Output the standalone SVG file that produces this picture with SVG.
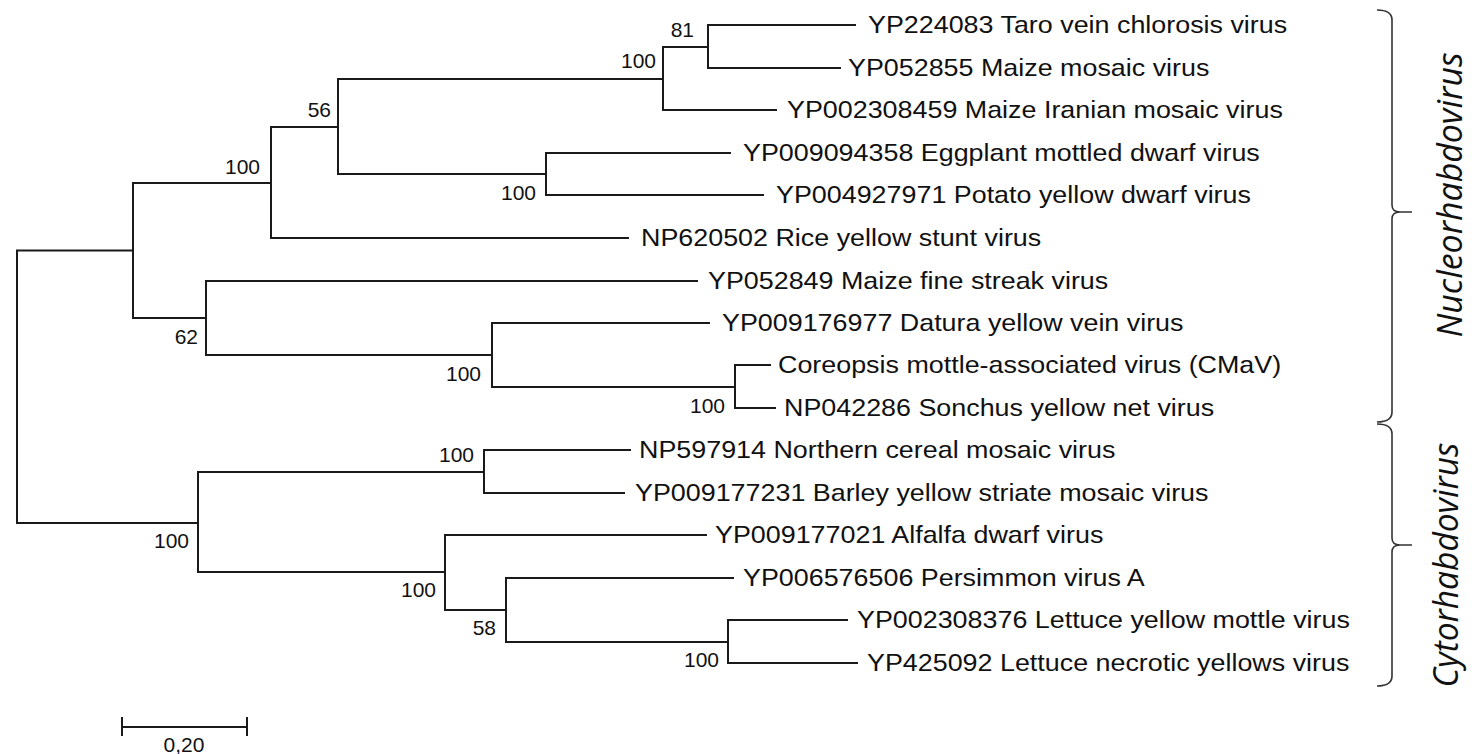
<svg xmlns="http://www.w3.org/2000/svg" width="1472" height="754" viewBox="0 0 1472 754">
<style>
.br{fill:none;stroke:#1a1a1a;stroke-width:2;stroke-linecap:square}
.brace{fill:none;stroke:#333;stroke-width:1.6}
.leaf{font-family:"Liberation Sans",Arial,sans-serif;font-size:24px;fill:#111}
.bs{font-family:"Liberation Sans",Arial,sans-serif;font-size:21px;fill:#111;text-anchor:end}
.genus{font-family:"Open Sans","Noto Sans",sans-serif;font-style:italic;font-size:34px;fill:#111;text-anchor:middle}
</style>
<rect width="1472" height="754" fill="#fff"/>
<g id="connectors">
<path class="br" d="M17,250.5V523 M17,250.5H133 M17,523H198"/>
<path class="br" d="M133,183V318 M133,183H271 M133,318H206"/>
<path class="br" d="M271,127V238 M271,127H338 M271,238H628"/>
<path class="br" d="M338,79V174 M338,79H663 M338,174H546"/>
<path class="br" d="M663,47V110 M663,47H708 M663,110H776"/>
<path class="br" d="M708,25V68 M708,25H855 M708,68H840"/>
<path class="br" d="M546,153V195 M546,153H730 M546,195H763"/>
<path class="br" d="M206,281V355 M206,281H697 M206,355H492"/>
<path class="br" d="M492,323V387 M492,323H709 M492,387H735"/>
<path class="br" d="M735,365V408 M735,365H770 M735,408H775"/>
<path class="br" d="M198,472V572 M198,472H484 M198,572H445"/>
<path class="br" d="M484,450V493 M484,450H630 M484,493H624"/>
<path class="br" d="M445,535V610 M445,535H706 M445,610H506"/>
<path class="br" d="M506,578V642 M506,578H733 M506,642H728"/>
<path class="br" d="M728,620V663 M728,620H847 M728,663H857"/>
</g>
<g id="bootstrap">
<text class="bs" x="694" y="37">81</text>
<text class="bs" x="656" y="68">100</text>
<text class="bs" x="331" y="117">56</text>
<text class="bs" x="260" y="174">100</text>
<text class="bs" x="536" y="200">100</text>
<text class="bs" x="198" y="344">62</text>
<text class="bs" x="481" y="381">100</text>
<text class="bs" x="725" y="413">100</text>
<text class="bs" x="474" y="462">100</text>
<text class="bs" x="189" y="548">100</text>
<text class="bs" x="436" y="597">100</text>
<text class="bs" x="496" y="635">58</text>
<text class="bs" x="719" y="667">100</text>
</g>
<g id="leaf-taro"><text class="leaf" transform="translate(868,33) scale(1.12,1)">YP224083 Taro vein chlorosis virus</text></g>
<g id="leaf-maize-mosaic"><text class="leaf" transform="translate(848,76) scale(1.12,1)">YP052855 Maize mosaic virus</text></g>
<g id="leaf-maize-iranian"><text class="leaf" transform="translate(787,118) scale(1.12,1)">YP002308459 Maize Iranian mosaic virus</text></g>
<g id="leaf-eggplant"><text class="leaf" transform="translate(743,161) scale(1.12,1)">YP009094358 Eggplant mottled dwarf virus</text></g>
<g id="leaf-potato"><text class="leaf" transform="translate(776,203) scale(1.12,1)">YP004927971 Potato yellow dwarf virus</text></g>
<g id="leaf-rice"><text class="leaf" transform="translate(641,246) scale(1.12,1)">NP620502 Rice yellow stunt virus</text></g>
<g id="leaf-maize-fine"><text class="leaf" transform="translate(708,289) scale(1.12,1)">YP052849 Maize fine streak virus</text></g>
<g id="leaf-datura"><text class="leaf" transform="translate(722,331) scale(1.12,1)">YP009176977 Datura yellow vein virus</text></g>
<g id="leaf-coreopsis"><text class="leaf" transform="translate(778,373) scale(1.12,1)">Coreopsis mottle-associated virus (CMaV)</text></g>
<g id="leaf-sonchus"><text class="leaf" transform="translate(784,416) scale(1.12,1)">NP042286 Sonchus yellow net virus</text></g>
<g id="leaf-northern"><text class="leaf" transform="translate(639,458) scale(1.12,1)">NP597914 Northern cereal mosaic virus</text></g>
<g id="leaf-barley"><text class="leaf" transform="translate(635,501) scale(1.12,1)">YP009177231 Barley yellow striate mosaic virus</text></g>
<g id="leaf-alfalfa"><text class="leaf" transform="translate(715,543) scale(1.12,1)">YP009177021 Alfalfa dwarf virus</text></g>
<g id="leaf-persimmon"><text class="leaf" transform="translate(743,586) scale(1.12,1)">YP006576506 Persimmon virus A</text></g>
<g id="leaf-lettuce-yellow"><text class="leaf" transform="translate(857,628) scale(1.12,1)">YP002308376 Lettuce yellow mottle virus</text></g>
<g id="leaf-lettuce-necrotic"><text class="leaf" transform="translate(867,671) scale(1.12,1)">YP425092 Lettuce necrotic yellows virus</text></g>
<g id="clade-nucleorhabdovirus">
<path class="brace" d="M1377,10 Q1392,10 1392,20 L1392,205 Q1392,212 1400,212 L1412,212 M1400,212 Q1392,212 1392,219 L1392,412 Q1392,422 1377,422"/>
<text class="genus" transform="translate(1462,195) rotate(-90)" textLength="285" lengthAdjust="spacingAndGlyphs">Nucleorhabdovirus</text>
</g>
<g id="clade-cytorhabdovirus">
<path class="brace" d="M1377,424 Q1392,424 1392,434 L1392,538 Q1392,545 1400,545 L1412,545 M1400,545 Q1392,545 1392,552 L1392,676 Q1392,686 1377,686"/>
<text class="genus" transform="translate(1458,565) rotate(-90)" textLength="245" lengthAdjust="spacingAndGlyphs">Cytorhabdovirus</text>
</g>
<g id="scale-bar">
<path class="br" d="M122,727H247 M122,718V735 M247,718V735"/>
<text class="bs" x="184" y="752" style="text-anchor:middle">0,20</text>
</g>
</svg>
